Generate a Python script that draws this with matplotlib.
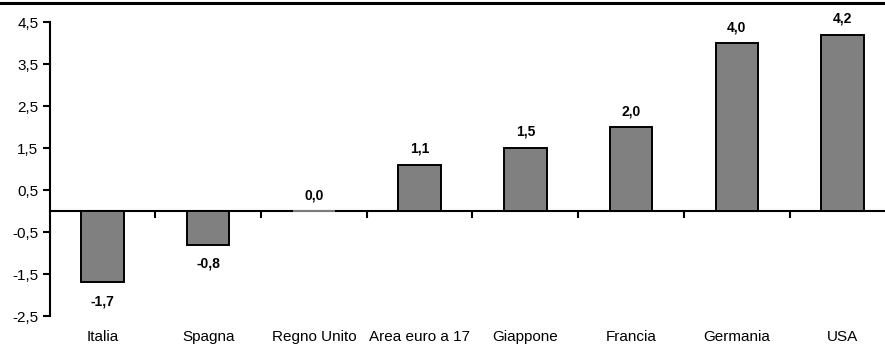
import matplotlib
matplotlib.use("Agg")
import matplotlib.pyplot as plt
from matplotlib.lines import Line2D
from matplotlib.ticker import FixedLocator, FuncFormatter

paesi = ["Italia", "Spagna", "Regno Unito", "Area euro a 17", "Giappone",
         "Francia", "Germania", "USA"]
valori = [-1.7, -0.8, 0.0, 1.1, 1.5, 2.0, 4.0, 4.2]
yticks = [-2.5, -1.5, -0.5, 0.5, 1.5, 2.5, 3.5, 4.5]

plt.rcParams["font.family"] = ["Liberation Sans Narrow", "Liberation Sans", "DejaVu Sans"]

fig = plt.figure(figsize=(8.85, 3.47), dpi=100)
ax = fig.add_axes([49.5 / 885, 31 / 347, 846 / 885, 294 / 347])

x = list(range(len(paesi)))
bordi = ["black" if v != 0 else "#808080" for v in valori]
ax.bar(x, valori, width=0.4, color="#808080", edgecolor=bordi, linewidth=1.4, zorder=3)

for xi, v in zip(x, valori):
    off = 16 if v >= 0 else -19
    ax.annotate(f"{v:.1f}".replace(".", ","), (xi, v), xytext=(0, off),
                textcoords="offset pixels", ha="center", va="center",
                fontsize=10, fontweight="bold")

ax.set_xlim(-0.5, len(paesi) - 0.5)
ax.set_ylim(-2.5, 4.5)

ax.spines["top"].set_visible(False)
ax.spines["right"].set_visible(False)
ax.spines["bottom"].set_position(("data", 0))
ax.spines["left"].set_linewidth(1.5)
ax.spines["bottom"].set_linewidth(1.5)

ax.yaxis.set_major_locator(FixedLocator(yticks))
ax.yaxis.set_major_formatter(FuncFormatter(lambda v, p: f"{v:.1f}".replace(".", ",")))
ax.tick_params(axis="y", direction="out", length=5, width=1.5, labelsize=11, pad=3)

ax.set_xticks([i + 0.5 for i in x[:-1]])
ax.set_xticklabels([])
ax.tick_params(axis="x", direction="out", length=5, width=1.5)

for xi, nome in zip(x, paesi):
    ax.text(xi, -0.072, nome, transform=ax.get_xaxis_transform(),
            ha="center", va="center", fontsize=11)

fig.add_artist(Line2D([0, 1], [1 - 2.5 / 347, 1 - 2.5 / 347], color="black",
                      linewidth=2.2, transform=fig.transFigure))

fig.savefig("out.png", dpi=100)
